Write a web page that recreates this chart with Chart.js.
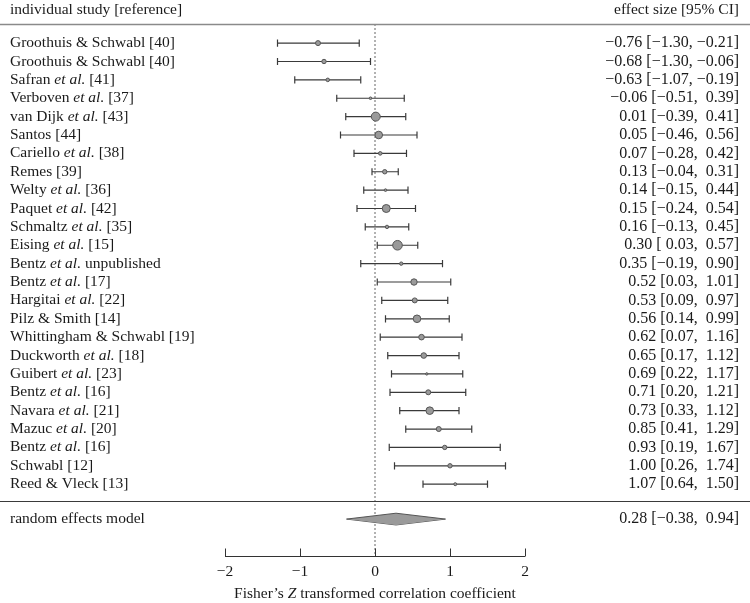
<!DOCTYPE html>
<html><head><meta charset="utf-8">
<script src="https://cdn.jsdelivr.net/npm/chart.js@4.4.1/dist/chart.umd.min.js"></script>
<style>html,body{margin:0;padding:0;background:#fff;}#wrap{width:750px;height:603px;position:relative;}</style>
</head><body><div id="wrap"><canvas id="c"></canvas></div>
<script>
// ---- data ----
const studies = [
  "Groothuis & Schwabl [40]", "Groothuis & Schwabl [40]", "Safran et al. [41]",
  "Verboven et al. [37]", "van Dijk et al. [43]", "Santos [44]", "Cariello et al. [38]",
  "Remes [39]", "Welty et al. [36]", "Paquet et al. [42]", "Schmaltz et al. [35]",
  "Eising et al. [15]", "Bentz et al. unpublished", "Bentz et al. [17]", "Hargitai et al. [22]",
  "Pilz & Smith [14]", "Whittingham & Schwabl [19]", "Duckworth et al. [18]", "Guibert et al. [23]",
  "Bentz et al. [16]", "Navara et al. [21]", "Mazuc et al. [20]", "Bentz et al. [16]",
  "Schwabl [12]", "Reed & Vleck [13]"
];
const estimates = [-0.76,-0.68,-0.63,-0.06,0.01,0.05,0.07,0.13,0.14,0.15,0.16,0.30,0.35,0.52,0.53,0.56,0.62,0.65,0.69,0.71,0.73,0.85,0.93,1.00,1.07];
const lowerCI   = [-1.30,-1.30,-1.07,-0.51,-0.39,-0.46,-0.28,-0.04,-0.15,-0.24,-0.13,0.03,-0.19,0.03,0.09,0.14,0.07,0.17,0.22,0.20,0.33,0.41,0.19,0.26,0.64];
const upperCI   = [-0.21,-0.06,-0.19,0.39,0.41,0.56,0.42,0.31,0.44,0.54,0.45,0.57,0.90,1.01,0.97,0.99,1.16,1.12,1.17,1.21,1.12,1.29,1.67,1.74,1.50];
const weights   = [3.0,2.7,2.3,1.8,5.0,4.3,2.3,2.7,1.8,4.5,2.2,5.3,2.2,3.7,3.0,4.3,3.3,3.3,1.7,3.0,4.3,3.0,2.7,2.7,2.0];
const pooledLabel = "random effects model";
const pooledEstimate = 0.28;
const pooledCI = [-0.38, 0.94];
const xTicks = [-2, -1, 0, 1, 2];
const headerLeft = "individual study [reference]";
const headerRight = "effect size [95% CI]";
const firstGroupSize = 13;

// ---- layout helpers (rows in y-scale units) ----
const nRows = studies.length;
const pooledRow = nRows + 1.9;
const FONT = "'Liberation Serif', 'Times New Roman', serif";
const dash = '\u2212';
const fmt = v => (v < 0 ? dash : '') + Math.abs(v).toFixed(2);
function ciText(est, lo, hi, padLo) {
  const loStr = (padLo && lo >= 0 ? ' ' : '') + fmt(lo);
  const hiStr = (hi >= 0 ? ' ' : '') + fmt(hi);
  return fmt(est) + ' [' + loStr + ', ' + hiStr + ']';
}

const pointData = estimates.map((e, i) => ({x: e, y: i + 1}));
const barData = [];
estimates.forEach((e, i) => {
  barData.push({x: lowerCI[i], y: i + 1}, {x: upperCI[i], y: i + 1}, {x: null, y: null});
});
const dh = 0.32;
const diamondTop = [{x: pooledCI[0], y: pooledRow}, {x: pooledEstimate, y: pooledRow - dh}, {x: pooledCI[1], y: pooledRow}];
const diamondBot = [{x: pooledCI[0], y: pooledRow}, {x: pooledEstimate, y: pooledRow + dh}, {x: pooledCI[1], y: pooledRow}];

function segmentsFor(label) {
  const idx = label.indexOf('et al.');
  if (idx < 0) return [{t: label, i: false}];
  return [{t: label.slice(0, idx), i: false}, {t: 'et al.', i: true}, {t: label.slice(idx + 6), i: false}];
}
function drawSegs(ctx, segs, x, y, align, size) {
  const fonts = segs.map(s => (s.i ? 'italic ' : '') + size + 'px ' + FONT);
  let total = 0;
  const widths = segs.map((s, k) => { ctx.font = fonts[k]; const w = ctx.measureText(s.t).width; total += w; return w; });
  let cx = align === 'right' ? x - total : align === 'center' ? x - total / 2 : x;
  ctx.textAlign = 'left';
  segs.forEach((s, k) => { ctx.font = fonts[k]; ctx.fillText(s.t, cx, y); cx += widths[k]; });
}

const forestPlugin = {
  id: 'forestText',
  afterDraw(chart) {
    const ctx = chart.ctx, xs = chart.scales.x, ys = chart.scales.y, ca = chart.chartArea;
    ctx.save();
    ctx.fillStyle = '#1a1a1a';
    ctx.textBaseline = 'middle';
    const size = 15.5, numSize = 16;
    const W = chart.width;
    // header
    drawSegs(ctx, [{t: headerLeft, i: false}], 10, ys.getPixelForValue(-0.82), 'left', size);
    drawSegs(ctx, [{t: headerRight, i: false}], 739, ys.getPixelForValue(-0.82), 'right', size);
    // header rule
    ctx.strokeStyle = '#8a8a8a'; ctx.lineWidth = 1.6;
    let yy = Math.round(ys.getPixelForValue(-0.04)) + 0.5;
    ctx.beginPath(); ctx.moveTo(0, yy); ctx.lineTo(W, yy); ctx.stroke();
    // separator
    ctx.strokeStyle = '#3a3a3a'; ctx.lineWidth = 1;
    yy = Math.round(ys.getPixelForValue(nRows + 0.92)) + 0.5;
    ctx.beginPath(); ctx.moveTo(0, yy); ctx.lineTo(W, yy); ctx.stroke();
    // rows
    studies.forEach((s, i) => {
      const y = ys.getPixelForValue(i + 1);
      drawSegs(ctx, segmentsFor(s), 10, y, 'left', size);
      drawSegs(ctx, [{t: ciText(estimates[i], lowerCI[i], upperCI[i], i < firstGroupSize), i: false}], 739, y, 'right', numSize);
    });
    const py = ys.getPixelForValue(pooledRow);
    drawSegs(ctx, [{t: pooledLabel, i: false}], 10, py, 'left', size);
    drawSegs(ctx, [{t: ciText(pooledEstimate, pooledCI[0], pooledCI[1], true), i: false}], 739, py, 'right', numSize);
    // x axis line with upward ticks
    ctx.strokeStyle = '#333'; ctx.lineWidth = 1;
    const by = Math.round(ca.bottom) + 0.5;
    ctx.beginPath();
    ctx.moveTo(xs.getPixelForValue(xTicks[0]), by);
    ctx.lineTo(xs.getPixelForValue(xTicks[xTicks.length - 1]), by);
    xTicks.forEach(v => {
      const px = Math.round(xs.getPixelForValue(v)) + 0.5;
      ctx.moveTo(px, by); ctx.lineTo(px, by - 8);
    });
    ctx.stroke();
    // axis title
    drawSegs(ctx, [{t: 'Fisher\u2019s ', i: false}, {t: 'Z', i: true}, {t: ' transformed correlation coefficient', i: false}],
      (ca.left + ca.right) / 2, 594, 'center', size);
    ctx.restore();
  }
};

new Chart(document.getElementById('c'), {
  type: 'scatter',
  data: {
    datasets: [
      {
        type: 'scatter', data: pointData, showLine: false,
        pointRadius: weights.map(w => w - 0.5),
        backgroundColor: '#9a9a9a', borderColor: '#555', borderWidth: 1
      },
      {
        type: 'line', data: barData, spanGaps: false, tension: 0,
        borderColor: '#3a3a3a', borderWidth: 1.2,
        pointStyle: 'line', rotation: 90, pointRadius: 3.6,
        pointBorderColor: '#3a3a3a', pointBorderWidth: 1.2, fill: false
      },
      {
        type: 'line', data: diamondTop, tension: 0, borderColor: '#555', borderWidth: 1,
        pointRadius: 0, fill: '+1', backgroundColor: '#9a9a9a'
      },
      {
        type: 'line', data: diamondBot, tension: 0, borderColor: '#555', borderWidth: 1,
        pointRadius: 0, fill: false
      },
      {
        type: 'line', data: [{x: 0, y: -0.04}, {x: 0, y: 28.93}], tension: 0,
        borderColor: '#666', borderWidth: 1, borderDash: [2, 2], pointRadius: 0, fill: false
      }
    ]
  },
  options: {
    responsive: true, maintainAspectRatio: false, animation: false, devicePixelRatio: 1,
    events: [],
    layout: {autoPadding: false, padding: {left: 225, right: 225, top: 0, bottom: 16}},
    plugins: {legend: {display: false}, tooltip: {enabled: false}},
    scales: {
      x: {
        type: 'linear', min: -2, max: 2, position: 'bottom',
        grid: {display: false, drawTicks: false}, border: {display: false},
        afterBuildTicks: s => { s.ticks = xTicks.map(v => ({value: v})); },
        ticks: {
          padding: 6, color: '#1a1a1a', font: {family: FONT, size: 15.5},
          callback: v => (v < 0 ? '\u2212' : '') + Math.abs(v)
        }
      },
      y: {type: 'linear', display: false, reverse: true, min: -1.346, max: 28.93}
    }
  },
  plugins: [forestPlugin]
});
</script>
</body></html>
